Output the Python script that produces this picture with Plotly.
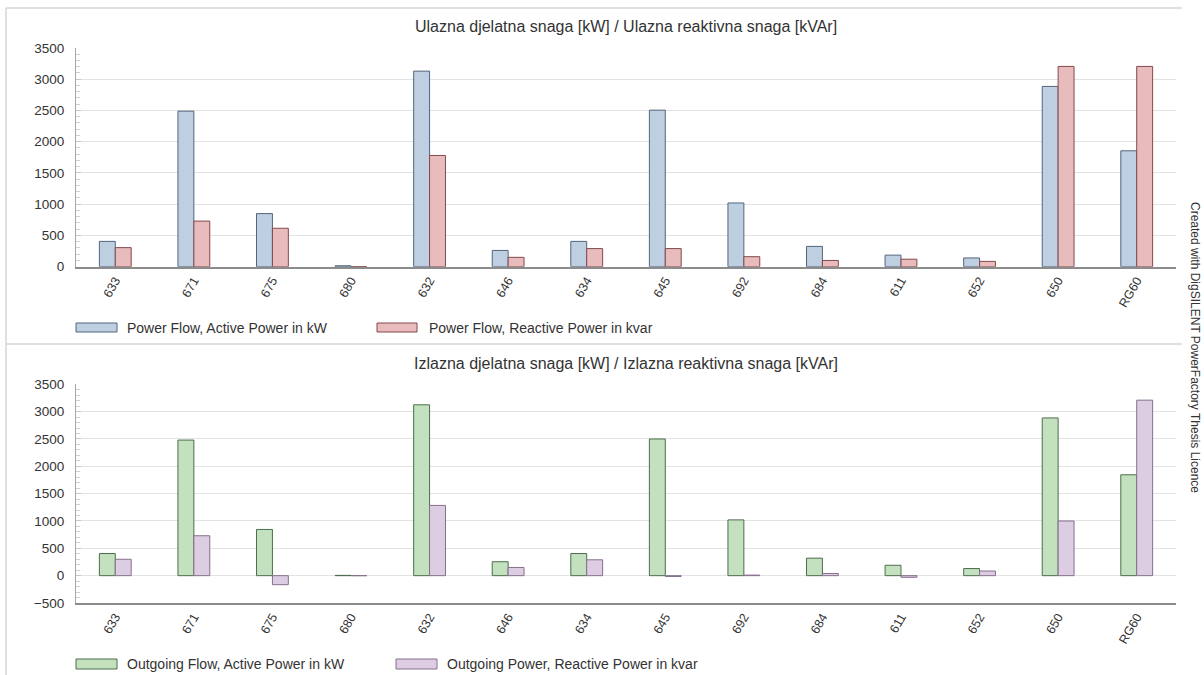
import plotly.graph_objects as go

categories = ["633", "671", "675", "680", "632", "646", "634", "645", "692", "684", "611", "652", "650", "RG60"]

in_active_kw = [405, 2490, 850, 15, 3130, 260, 405, 2505, 1020, 325, 185, 140, 2885, 1855]
in_reactive_kvar = [305, 730, 615, 0, 1780, 150, 290, 290, 160, 100, 120, 85, 3205, 3205]

out_active_kw = [405, 2480, 845, 5, 3125, 255, 405, 2500, 1020, 320, 190, 130, 2885, 1845]
out_reactive_kvar = [300, 730, -165, 0, 1285, 150, 290, -15, 10, 40, -30, 85, 1000, 3210]

top_title = "Ulazna djelatna snaga [kW] / Ulazna reaktivna snaga [kVAr]"
bottom_title = "Izlazna djelatna snaga [kW] / Izlazna reaktivna snaga [kVAr]"
legend_names = [
    "Power Flow, Active Power in kW",
    "Power Flow, Reactive Power in kvar",
    "Outgoing Flow, Active Power in kW",
    "Outgoing Power, Reactive Power in kvar",
]
side_text = "Created with DigSILENT PowerFactory Thesis Licence"

FONT = "Liberation Sans, Arial, sans-serif"
W, H = 1204, 675
ML, MR, MT, MB = 76, 28, 48, 72
PW = W - ML - MR
PH = H - MT - MB


def px(x):
    """page x (pixels) -> paper fraction"""
    return (x - ML) / PW


def py(y):
    """page y (pixels) -> paper fraction"""
    return (H - MB - y) / PH


styles = [
    dict(fill="#bfcfe2", line="#52657c"),
    dict(fill="#e8bcbc", line="#84494c"),
    dict(fill="#c3e0bf", line="#4c6e4c"),
    dict(fill="#ddcde3", line="#85708c"),
]

fig = go.Figure()
series = [
    (in_active_kw, "x", "y", 0),
    (in_reactive_kvar, "x", "y", 1),
    (out_active_kw, "x2", "y2", 2),
    (out_reactive_kvar, "x2", "y2", 3),
]
for vals, xa, ya, i in series:
    fig.add_trace(go.Bar(
        x=categories, y=vals, name=legend_names[i], xaxis=xa, yaxis=ya,
        marker=dict(color=styles[i]["fill"], line=dict(color=styles[i]["line"], width=1)),
        showlegend=False,
    ))

xcommon = dict(
    type="category", showgrid=False, showline=True, linecolor="#8c8c8c", linewidth=1.5,
    ticks="", tickangle=-60, tickfont=dict(family=FONT, size=12.5, color="#333"),
    zeroline=False, fixedrange=True,
)
ycommon = dict(
    showgrid=True, gridcolor="#e3e3e3", gridwidth=1, showline=True, linecolor="#a6a6a6",
    linewidth=1, dtick=500, ticks="inside", ticklen=5, tickcolor="#c8c8c8",
    tickfont=dict(family=FONT, size=13.5, color="#333"), zeroline=False,
    minor=dict(ticks="inside", ticklen=4, dtick=100, tickcolor="#d0d0d0", showgrid=False),
    ticklabelstandoff=8,
)

fig.update_layout(
    width=W, height=H,
    margin=dict(l=ML, r=MR, t=MT, b=MB),
    paper_bgcolor="white", plot_bgcolor="white",
    barmode="group", bargap=0.595, bargroupgap=0,
    font=dict(family=FONT, color="#333"),
    xaxis=dict(domain=[0, 1], anchor="y", **xcommon),
    yaxis=dict(domain=[py(266.7), 1.0], anchor="x", range=[0, 3500], **ycommon),
    xaxis2=dict(domain=[0, 1], anchor="y2", **xcommon),
    yaxis2=dict(domain=[0, py(384.3)], anchor="x2", range=[-500, 3500], **ycommon),
)

annotations = [
    dict(text=top_title, x=0.5, y=py(27), xref="paper", yref="paper", showarrow=False,
         xanchor="center", yanchor="middle", font=dict(family=FONT, size=16, color="#333")),
    dict(text=bottom_title, x=0.5, y=py(363), xref="paper", yref="paper", showarrow=False,
         xanchor="center", yanchor="middle", font=dict(family=FONT, size=16, color="#333")),
    dict(text=side_text, x=px(1195), y=py(347), xref="paper", yref="paper", showarrow=False,
         textangle=90, xanchor="center", yanchor="middle",
         font=dict(family=FONT, size=12, color="#333")),
]

legend_items = [
    (0, 76, 117, 323, 332, 125, 328),
    (1, 377, 417, 323, 332, 427, 328),
    (2, 76, 117, 659, 669, 125, 664),
    (3, 396, 437, 659, 669, 445, 664),
]
shapes = []
for i, x0, x1, y0, y1, tx, ty in legend_items:
    shapes.append(dict(type="rect", xref="paper", yref="paper",
                       x0=px(x0), x1=px(x1), y0=py(y1), y1=py(y0),
                       fillcolor=styles[i]["fill"], line=dict(color=styles[i]["line"], width=1)))
    annotations.append(dict(text=legend_names[i], x=px(tx), y=py(ty), xref="paper", yref="paper",
                            showarrow=False, xanchor="left", yanchor="middle",
                            font=dict(family=FONT, size=14, color="#333")))

frame = "#d6d6d6"
shapes += [
    dict(type="line", xref="paper", yref="paper", x0=px(6), x1=px(1182), y0=py(8), y1=py(8),
         line=dict(color=frame, width=1.5)),
    dict(type="line", xref="paper", yref="paper", x0=px(6), x1=px(1182), y0=py(344), y1=py(344),
         line=dict(color=frame, width=1.5)),
    dict(type="line", xref="paper", yref="paper", x0=px(6), x1=px(6), y0=py(8), y1=py(675),
         line=dict(color=frame, width=1.5)),
]

fig.update_layout(annotations=annotations, shapes=shapes)
fig.write_html(
    "out.html",
    config={"displayModeBar": False},
    post_script="document.body.style.margin='0';document.body.style.overflow='hidden';",
)
